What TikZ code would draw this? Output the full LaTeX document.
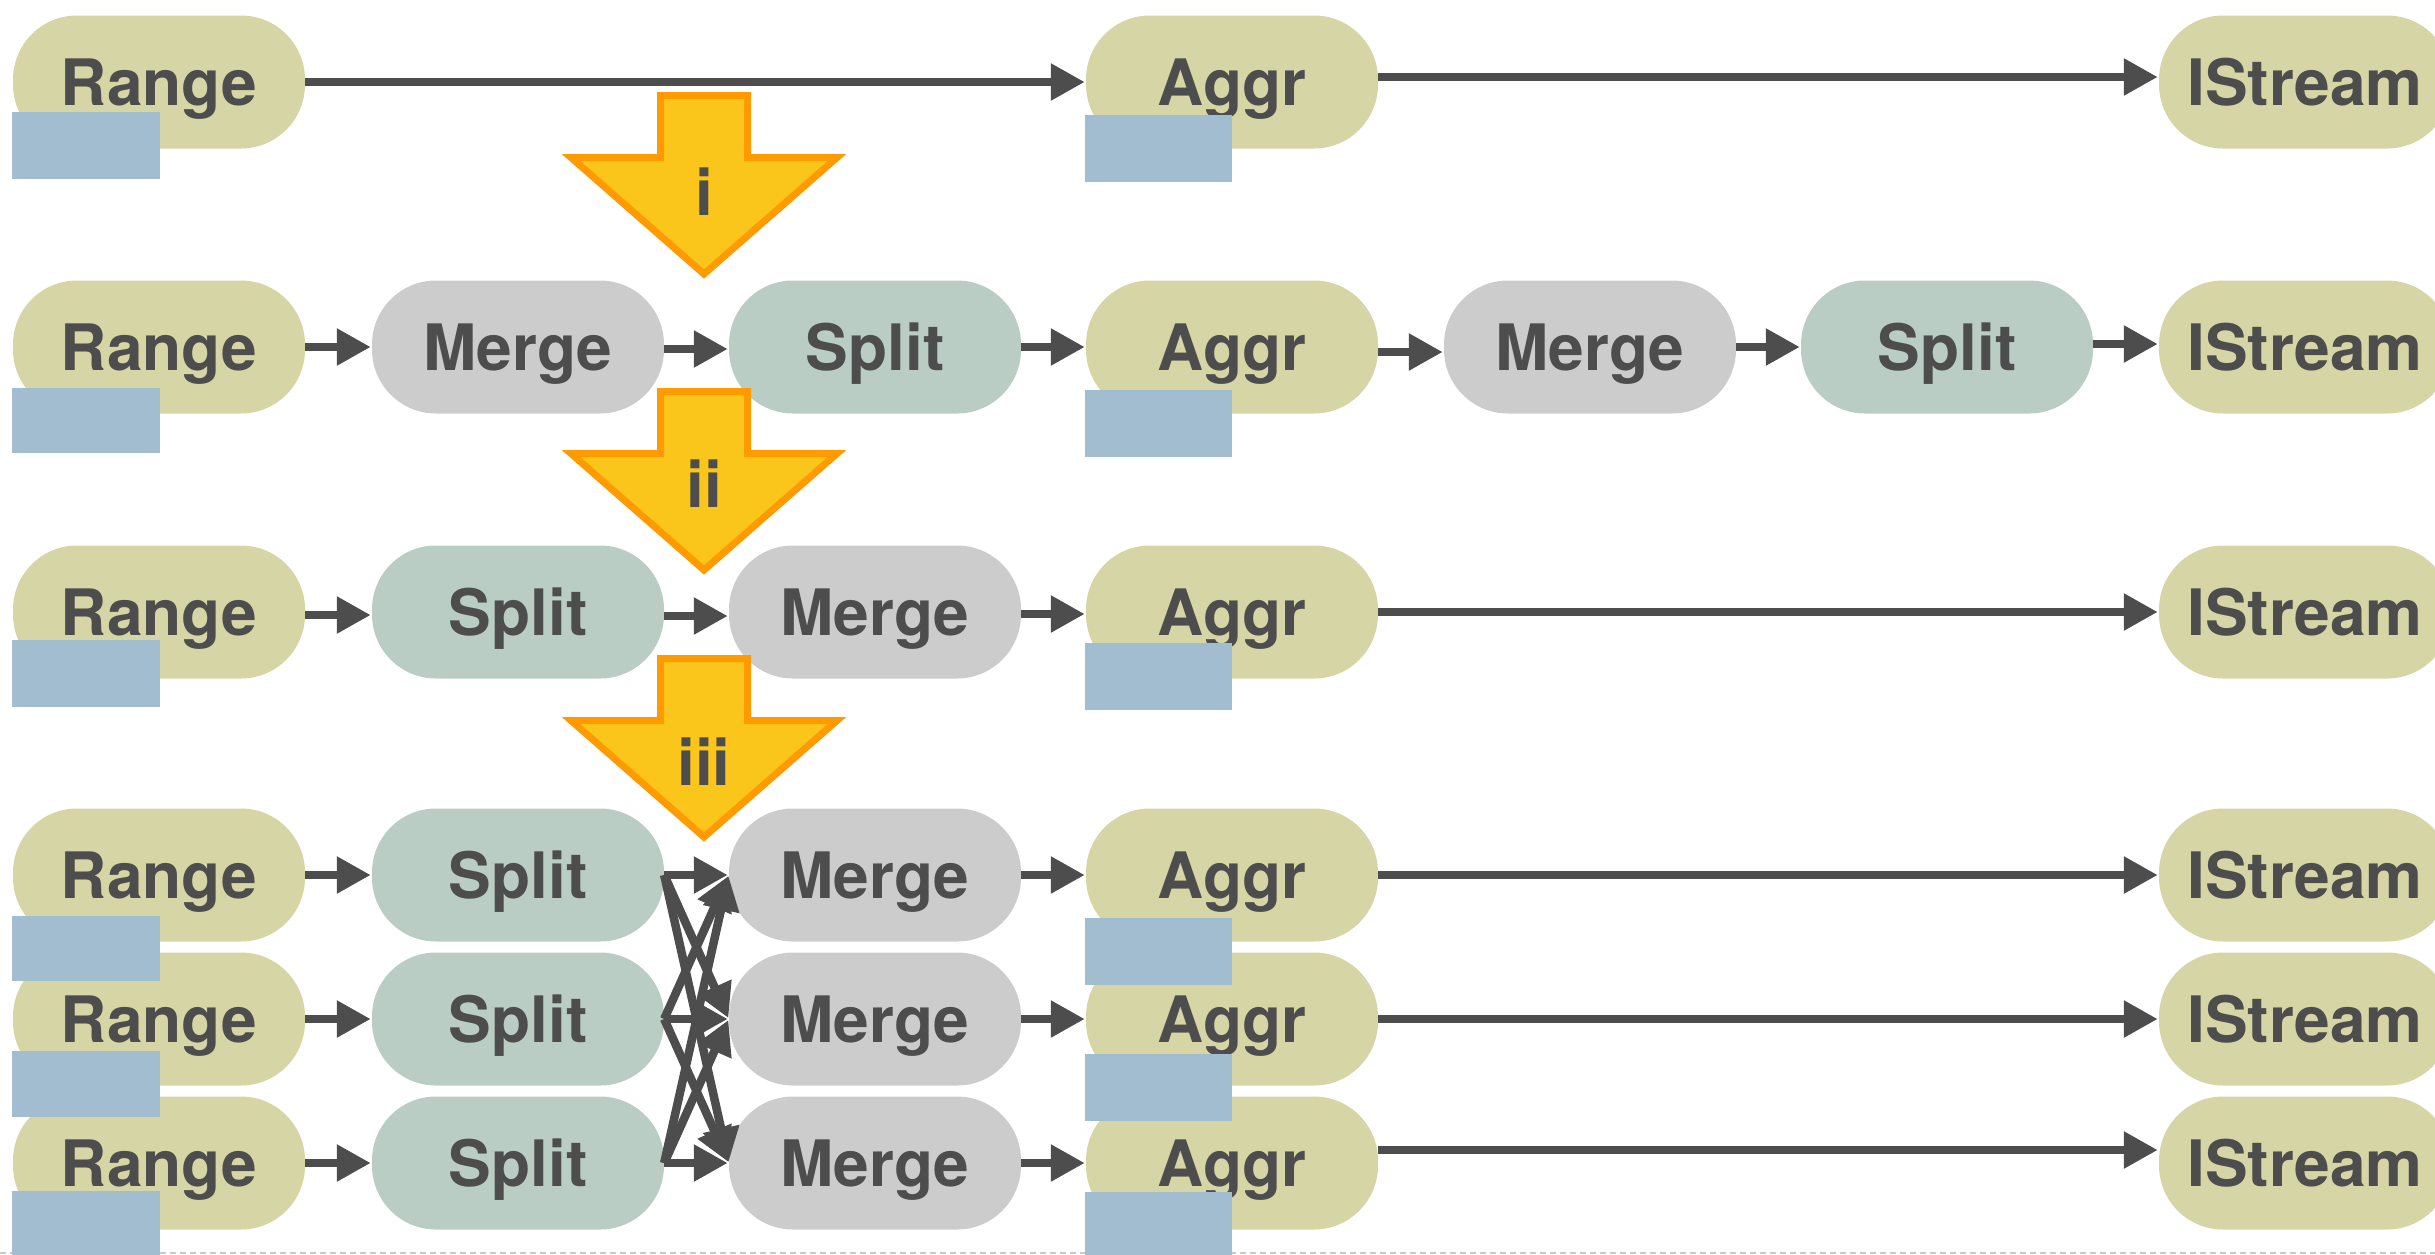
\documentclass[tikz,border=0pt]{standalone}
\usepackage{fontspec}
\setmainfont{TeX Gyre Heros}
\usetikzlibrary{arrows.meta}

\definecolor{ink}{HTML}{4D4D4D}
\definecolor{khaki}{HTML}{D5D5A6}
\definecolor{mergegray}{HTML}{CCCCCC}
\definecolor{splitgreen}{HTML}{B9CDC4}
\definecolor{tagblue}{HTML}{A2BDCF}
\definecolor{arrowfill}{HTML}{FAC61B}
\definecolor{arroworange}{HTML}{FF9A00}
\definecolor{rulegray}{HTML}{C8C8C8}

\begin{document}
\begin{tikzpicture}[x=1pt,y=-1pt,
  op/.style={rounded corners=64pt, minimum width=292pt, minimum height=133pt,
    inner sep=0pt, text height=46pt, text depth=0pt, text=ink,
    font=\fontsize{64pt}{70pt}\selectfont\bfseries},
  io/.style={op, fill=khaki},
  mergeop/.style={op, fill=mergegray},
  splitop/.style={op, fill=splitgreen},
  flow/.style={draw=ink, line width=8.5pt, -{Triangle[length=34pt,width=35pt]}, shorten >=1pt},
  tagbox/.style={fill=tagblue},
  shiftarrow/.style={fill=arrowfill, draw=arroworange, line width=7pt},
  steplabel/.style={anchor=base, inner sep=0pt, text=ink,
    font=\fontsize{64pt}{70pt}\selectfont\bfseries}
]
\useasboundingbox (0,0) rectangle (2435,1254);
\clip (0,0) rectangle (2435,1254);

% page rule along the bottom
\draw[rulegray, line width=2pt, dash pattern=on 6pt off 4pt] (0,1253) -- (2435,1253);

% ---- row 1: Range -> Aggr -> IStream
\node[io] (r1) at (159,82) {Range};
\node[io] (a1) at (1232,82) {Aggr};
\node[io] (i1) at (2305,82) {IStream};

% ---- row 2: with merge/split pairs
\node[io] (r2) at (159,347) {Range};
\node[mergeop] (m2a) at (518,347) {Merge};
\node[splitop] (s2a) at (875,347) {Split};
\node[io] (a2) at (1232,347) {Aggr};
\node[mergeop] (m2b) at (1590,347) {Merge};
\node[splitop] (s2b) at (1947,347) {Split};
\node[io] (i2) at (2305,347) {IStream};

% ---- row 3: split before merge
\node[io] (r3) at (159,612) {Range};
\node[splitop] (s3) at (518,612) {Split};
\node[mergeop] (m3) at (875,612) {Merge};
\node[io] (a3) at (1232,612) {Aggr};
\node[io] (i3) at (2305,612) {IStream};

% ---- rows 4-6: three parallel pipelines
\foreach \k/\y in {4/875, 5/1019, 6/1163} {
  \node[io] (r\k) at (159,\y) {Range};
  \node[splitop] (s\k) at (518,\y) {Split};
  \node[mergeop] (m\k) at (875,\y) {Merge};
  \node[io] (a\k) at (1232,\y) {Aggr};
  \node[io] (i\k) at (2305,\y) {IStream};
}

% ---- connectors
\draw[flow] (r1.east) -- (a1.west);
\draw[flow] ([yshift=5pt]a1.east) -- ([yshift=5pt]i1.west);

\draw[flow] (r2.east) -- (m2a.west);
\draw[flow] ([yshift=-2pt]m2a.east) -- ([yshift=-2pt]s2a.west);
\draw[flow] (s2a.east) -- (a2.west);
\draw[flow] ([yshift=-5pt]a2.east) -- ([yshift=-5pt]m2b.west);
\draw[flow] (m2b.east) -- (s2b.west);
\draw[flow] ([yshift=3pt]s2b.east) -- ([yshift=3pt]i2.west);

\draw[flow] ([yshift=-3pt]r3.east) -- ([yshift=-3pt]s3.west);
\draw[flow] ([yshift=-4pt]s3.east) -- ([yshift=-4pt]m3.west);
\draw[flow] ([yshift=-2pt]m3.east) -- ([yshift=-2pt]a3.west);
\draw[flow] (a3.east) -- (i3.west);

\foreach \k in {4,5,6} {
  \draw[flow] (r\k.east) -- (s\k.west);
  \draw[flow] (m\k.east) -- (a\k.west);
}
\draw[flow] (a4.east) -- (i4.west);
\draw[flow] (a5.east) -- (i5.west);
\draw[flow] ([yshift=13pt]a6.east) -- ([yshift=13pt]i6.west);

% every split feeds every merge
\foreach \i in {4,5,6} {
  \foreach \j in {4,5,6} {
    \draw[flow] (s\i.east) -- (m\j.west);
  }
}

% ---- partition tags
\fill[tagbox] (12,112) rectangle (160,179);
\fill[tagbox] (12,388) rectangle (160,453);
\fill[tagbox] (12,640) rectangle (160,707);
\fill[tagbox] (12,916) rectangle (160,981);
\fill[tagbox] (12,1051) rectangle (160,1117);
\fill[tagbox] (12,1191) rectangle (160,1258);

\fill[tagbox] (1085,115) rectangle (1232,182);
\fill[tagbox] (1085,390) rectangle (1232,457);
\fill[tagbox] (1085,643) rectangle (1232,710);
\fill[tagbox] (1085,918) rectangle (1232,985);
\fill[tagbox] (1085,1054) rectangle (1232,1121);
\fill[tagbox] (1085,1192) rectangle (1232,1259);

% ---- rewrite steps
\foreach \t/\lab/\bl in {92/i/215, 388/ii/507, 655/iii/785} {
  \draw[shiftarrow] (660.5,\t+3.5) -- (747.5,\t+3.5) -- (747.5,\t+65.5)
    -- (837,\t+65.5) -- (704,\t+182) -- (571,\t+65.5) -- (660.5,\t+65.5) -- cycle;
  \node[steplabel] (step\lab) at (704,\bl) {\lab};
}
\end{tikzpicture}
\end{document}
